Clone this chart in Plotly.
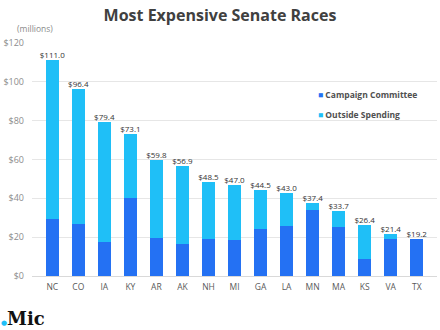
import plotly.graph_objects as go

states = ["NC", "CO", "IA", "KY", "AR", "AK", "NH", "MI", "GA", "LA", "MN", "MA", "KS", "VA", "TX"]
totals = [111.0, 96.4, 79.4, 73.1, 59.8, 56.9, 48.5, 47.0, 44.5, 43.0, 37.4, 33.7, 26.4, 21.4, 19.2]
campaign = [29.5, 27.0, 17.3, 40.0, 19.7, 16.4, 19.0, 18.8, 24.2, 25.5, 34.2, 25.0, 9.0, 19.3, 19.2]
outside = [round(t - c, 1) for t, c in zip(totals, campaign)]
labels = ["$%.1f" % t for t in totals]
tick_vals = [0, 20, 40, 60, 80, 100, 120]
tick_text = ["$0", "$20", "$40", "$60", "$80", "$100", "$120"]

DARK = "#2471F3"
LIGHT = "#1FBFF7"

fig = go.Figure()
fig.add_trace(go.Bar(x=states, y=campaign, name="Campaign Committee",
                     marker=dict(color=DARK, line=dict(width=0)), showlegend=False))
fig.add_trace(go.Bar(x=states, y=outside, name="Outside Spending",
                     marker=dict(color=LIGHT, line=dict(width=0)), showlegend=False))
fig.add_trace(go.Scatter(x=states, y=totals, mode="text", text=labels,
                         textposition="top center",
                         textfont=dict(family="Open Sans", size=8, color="#333333"),
                         showlegend=False, hoverinfo="skip"))

fig.update_layout(
    width=440, height=330,
    margin=dict(l=27, r=3, t=43, b=54),
    paper_bgcolor="white", plot_bgcolor="white",
    barmode="stack", bargap=0.49,
    showlegend=False,
    title=dict(text="<b>Most Expensive Senate Races</b>", x=0.5, xanchor="center",
               y=1 - 15 / 330, yanchor="middle",
               font=dict(family="Open Sans", size=16, color="#404040")),
    xaxis=dict(showgrid=False, showline=False, ticks="", ticklabelstandoff=4,
               tickfont=dict(family="Open Sans", size=8.5, color="#595959"),
               fixedrange=True),
    yaxis=dict(range=[0, 120], tickvals=tick_vals, ticktext=tick_text,
               showgrid=True, gridcolor="#e6e6e6", gridwidth=1,
               zeroline=True, zerolinecolor="#d9d9d9", zerolinewidth=1,
               showline=False, ticks="", ticklabelstandoff=7,
               tickfont=dict(family="Open Sans", size=9, color="#8c8c8c"),
               fixedrange=True),
    font=dict(family="Open Sans"),
)

fig.add_annotation(text="(millions)", xref="paper", yref="paper",
                   x=-17 / 410, y=1 + 14 / 233, xanchor="left", yanchor="middle",
                   showarrow=False, font=dict(family="Open Sans", size=8.5, color="#8c8c8c"))

fig.add_annotation(text='<span style="color:%s">■</span> <b>Campaign Committee</b>' % DARK,
                   xref="paper", yref="paper", x=(314 - 27) / 410, y=(276 - 94) / 233,
                   xanchor="left", yanchor="middle", showarrow=False,
                   font=dict(family="Open Sans", size=8.5, color="#505050"))
fig.add_annotation(text='<span style="color:%s">■</span> <b>Outside Spending</b>' % LIGHT,
                   xref="paper", yref="paper", x=(314 - 27) / 410, y=(276 - 114) / 233,
                   xanchor="left", yanchor="middle", showarrow=False,
                   font=dict(family="Open Sans", size=8.5, color="#505050"))

fig.add_annotation(text='<span style="color:%s;font-size:7px">●</span><b>Mic</b>' % LIGHT,
                   xref="paper", yref="paper", x=-33 / 410, y=-(318 - 276) / 233,
                   xanchor="left", yanchor="middle", showarrow=False,
                   font=dict(family="DejaVu Serif", size=18, color="#111111"))

fig.write_html("out.html")
